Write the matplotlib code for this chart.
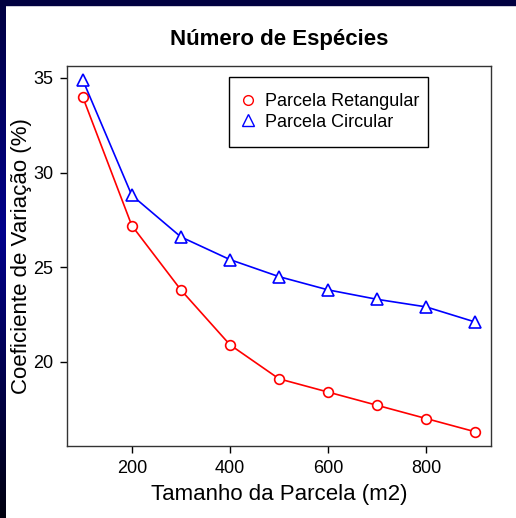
import numpy as np
import matplotlib
matplotlib.use('Agg')
import matplotlib.pyplot as plt
from matplotlib.lines import Line2D
from matplotlib.patches import Rectangle
from matplotlib.colors import LinearSegmentedColormap

plt.rcParams['font.family'] = ['Liberation Sans', 'DejaVu Sans']

# data
tamanho = [100, 200, 300, 400, 500, 600, 700, 800, 900]
cv_retangular = [34.0, 27.2, 23.8, 20.9, 19.1, 18.4, 17.7, 17.0, 16.3]
cv_circular = [34.9, 28.8, 26.6, 25.4, 24.5, 23.8, 23.3, 22.9, 22.1]
x_ticks = [200, 400, 600, 800]
y_ticks = [20, 25, 30, 35]

W, H = 516, 518
fig = plt.figure(figsize=(W / 100, H / 100), dpi=100)
fig.patch.set_facecolor('white')

# slide style border: dark strip on top, blue gradient on the left
strip = fig.add_axes([0, 0, 6 / W, 1], zorder=-1)
cmap = LinearSegmentedColormap.from_list('borda', [(0, '#000040'), (0.45, '#00008c'), (1, '#00000f')])
strip.imshow(np.linspace(0, 1, 256).reshape(-1, 1), aspect='auto', cmap=cmap, extent=[0, 1, 1, 0])
strip.axis('off')
fig.add_artist(Rectangle((0, 1 - 5 / H), 1, 5 / H, transform=fig.transFigure, color='#000040', zorder=5))

ax = fig.add_axes([67 / W, 1 - 446 / H, 424 / W, 380 / H])
ax.plot(tamanho, cv_retangular, color='red', lw=1.2, marker='o', ms=7, mfc='white', mew=1.2, zorder=3)
ax.plot(tamanho, cv_circular, color='blue', lw=1.2, marker='^', ms=8.5, mfc='white', mew=1.2, zorder=3)

ax.set_xlim(68, 932)
ax.set_ylim(15.55, 35.63)
ax.set_xticks(x_ticks)
ax.set_yticks(y_ticks)
ax.tick_params(direction='out', length=5, width=1, labelsize=13, pad=5)
for s in ax.spines.values():
    s.set_color('#333333')
    s.set_linewidth(1)

ax.set_title('Número de Espécies', fontsize=16, fontweight='bold', pad=15)
ax.set_xlabel('Tamanho da Parcela (m2)', fontsize=16)
ax.set_ylabel('Coeficiente de Variação (%)', fontsize=16)
ax.xaxis.set_label_coords(0.5, -0.1)
ax.yaxis.set_label_coords(-0.083, 0.5)

handles = [Line2D([], [], ls='none', marker='o', color='red', mfc='none', ms=7, mew=1),
           Line2D([], [], ls='none', marker='^', color='blue', mfc='none', ms=8, mew=1)]
leg = ax.legend(handles, ['Parcela Retangular', 'Parcela Circular'], loc='upper left',
                bbox_to_anchor=(0.382, 0.5, 0.469, 0.471), mode='expand', borderaxespad=0,
                fontsize=13, fancybox=False, framealpha=1, edgecolor='black',
                handlelength=0.35, handletextpad=0.75, labelspacing=0.19, borderpad=0.9)
leg.get_frame().set_linewidth(1)

fig.savefig('out.png', dpi=100)
